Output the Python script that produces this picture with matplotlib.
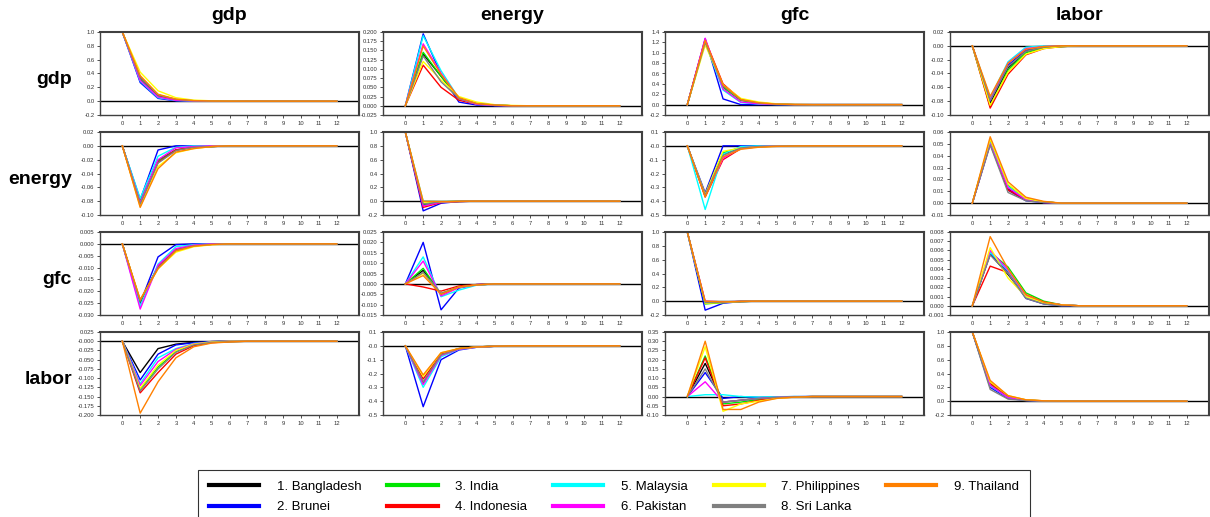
import matplotlib.pyplot as plt
import numpy as np

plt.rcParams['font.family'] = ['Liberation Sans', 'DejaVu Sans']

# countries in legend order
countries = ['1. Bangladesh', '2. Brunei', '3. India', '4. Indonesia', '5. Malaysia',
             '6. Pakistan', '7. Philippines', '8. Sri Lanka', '9. Thailand']
colors = ['#000000', '#0000ff', '#00e600', '#ff0000', '#00ffff',
          '#ff00ff', '#ffff00', '#808080', '#ff8000']
variables = ['gdp', 'energy', 'gfc', 'labor']
periods = np.arange(13)

# responses: row variable to column shock, one list per country (order as above)
gdp_gdp = [
    [1, 0.33, 0.08, 0.02, 0.005, 0.002, 0, 0, 0, 0, 0, 0, 0],
    [1, 0.27, 0.04, 0.005, 0, 0, 0, 0, 0, 0, 0, 0, 0],
    [1, 0.31, 0.07, 0.015, 0.004, 0.001, 0, 0, 0, 0, 0, 0, 0],
    [1, 0.35, 0.09, 0.025, 0.006, 0.002, 0, 0, 0, 0, 0, 0, 0],
    [1, 0.29, 0.05, 0.01, 0.002, 0, 0, 0, 0, 0, 0, 0, 0],
    [1, 0.30, 0.06, 0.012, 0.003, 0, 0, 0, 0, 0, 0, 0, 0],
    [1, 0.42, 0.15, 0.05, 0.015, 0.005, 0.002, 0, 0, 0, 0, 0, 0],
    [1, 0.34, 0.09, 0.025, 0.006, 0.002, 0, 0, 0, 0, 0, 0, 0],
    [1, 0.37, 0.10, 0.03, 0.008, 0.002, 0, 0, 0, 0, 0, 0, 0],
]
gdp_energy = [
    [0, 0.140, 0.080, 0.020, 0.005, 0.002, 0, 0, 0, 0, 0, 0, 0],
    [0, 0.195, 0.085, 0.010, 0.002, 0, 0, 0, 0, 0, 0, 0, 0],
    [0, 0.145, 0.080, 0.020, 0.005, 0.002, 0, 0, 0, 0, 0, 0, 0],
    [0, 0.110, 0.050, 0.015, 0.004, 0.001, 0, 0, 0, 0, 0, 0, 0],
    [0, 0.190, 0.095, 0.020, 0.004, 0.001, 0, 0, 0, 0, 0, 0, 0],
    [0, 0.168, 0.088, 0.020, 0.004, 0.001, 0, 0, 0, 0, 0, 0, 0],
    [0, 0.120, 0.070, 0.025, 0.010, 0.003, 0.001, 0, 0, 0, 0, 0, 0],
    [0, 0.135, 0.065, 0.020, 0.006, 0.002, 0, 0, 0, 0, 0, 0, 0],
    [0, 0.162, 0.085, 0.022, 0.006, 0.002, 0, 0, 0, 0, 0, 0, 0],
]
gdp_gfc = [
    [0, 1.23, 0.35, 0.09, 0.03, 0.008, 0, 0, 0, 0, 0, 0, 0],
    [0, 1.27, 0.11, 0.00, 0, 0, 0, 0, 0, 0, 0, 0, 0],
    [0, 1.22, 0.33, 0.08, 0.025, 0.006, 0, 0, 0, 0, 0, 0, 0],
    [0, 1.25, 0.40, 0.10, 0.035, 0.01, 0.002, 0, 0, 0, 0, 0, 0],
    [0, 1.20, 0.28, 0.04, 0.01, 0.002, 0, 0, 0, 0, 0, 0, 0],
    [0, 1.28, 0.30, 0.05, 0.015, 0.003, 0, 0, 0, 0, 0, 0, 0],
    [0, 1.15, 0.38, 0.12, 0.05, 0.015, 0.004, 0, 0, 0, 0, 0, 0],
    [0, 1.20, 0.36, 0.09, 0.03, 0.008, 0, 0, 0, 0, 0, 0, 0],
    [0, 1.24, 0.38, 0.10, 0.035, 0.01, 0.002, 0, 0, 0, 0, 0, 0],
]
gdp_labor = [
    [0, -0.083, -0.032, -0.008, -0.002, -0.001, 0, 0, 0, 0, 0, 0, 0],
    [0, -0.080, -0.028, -0.006, -0.001, 0, 0, 0, 0, 0, 0, 0, 0],
    [0, -0.088, -0.035, -0.010, -0.003, -0.001, 0, 0, 0, 0, 0, 0, 0],
    [0, -0.090, -0.041, -0.013, -0.004, -0.001, 0, 0, 0, 0, 0, 0, 0],
    [0, -0.075, -0.023, -0.002, 0, 0, 0, 0, 0, 0, 0, 0, 0],
    [0, -0.078, -0.025, -0.004, -0.001, 0, 0, 0, 0, 0, 0, 0, 0],
    [0, -0.086, -0.038, -0.012, -0.004, -0.001, 0, 0, 0, 0, 0, 0, 0],
    [0, -0.079, -0.030, -0.008, -0.002, 0, 0, 0, 0, 0, 0, 0, 0],
    [0, -0.073, -0.025, -0.005, -0.001, 0, 0, 0, 0, 0, 0, 0, 0],
]
energy_gdp = [
    [0, -0.083, -0.021, -0.006, -0.002, -0.001, 0, 0, 0, 0, 0, 0, 0],
    [0, -0.078, -0.006, 0.000, 0, 0, 0, 0, 0, 0, 0, 0, 0],
    [0, -0.080, -0.022, -0.006, -0.002, -0.001, 0, 0, 0, 0, 0, 0, 0],
    [0, -0.085, -0.024, -0.006, -0.002, -0.001, 0, 0, 0, 0, 0, 0, 0],
    [0, -0.076, -0.015, -0.002, 0, 0, 0, 0, 0, 0, 0, 0, 0],
    [0, -0.082, -0.020, -0.003, -0.001, 0, 0, 0, 0, 0, 0, 0, 0],
    [0, -0.088, -0.030, -0.010, -0.004, -0.001, 0, 0, 0, 0, 0, 0, 0],
    [0, -0.084, -0.025, -0.007, -0.002, -0.001, 0, 0, 0, 0, 0, 0, 0],
    [0, -0.089, -0.033, -0.009, -0.004, -0.001, 0, 0, 0, 0, 0, 0, 0],
]
energy_energy = [
    [1, -0.05, -0.01, -0.003, 0, 0, 0, 0, 0, 0, 0, 0, 0],
    [1, -0.14, -0.03, -0.005, 0, 0, 0, 0, 0, 0, 0, 0, 0],
    [1, -0.06, -0.015, -0.004, 0, 0, 0, 0, 0, 0, 0, 0, 0],
    [1, -0.09, -0.02, -0.005, 0, 0, 0, 0, 0, 0, 0, 0, 0],
    [1, 0.00, -0.005, 0, 0, 0, 0, 0, 0, 0, 0, 0, 0],
    [1, -0.07, -0.015, -0.004, 0, 0, 0, 0, 0, 0, 0, 0, 0],
    [1, -0.02, -0.01, -0.003, 0, 0, 0, 0, 0, 0, 0, 0, 0],
    [1, -0.04, -0.01, -0.003, 0, 0, 0, 0, 0, 0, 0, 0, 0],
    [1, 0.00, -0.005, -0.002, 0, 0, 0, 0, 0, 0, 0, 0, 0],
]
energy_gfc = [
    [0, -0.36, -0.06, -0.015, -0.005, -0.002, 0, 0, 0, 0, 0, 0, 0],
    [0, -0.34, 0.00, 0.00, 0, 0, 0, 0, 0, 0, 0, 0, 0],
    [0, -0.36, -0.05, -0.012, -0.004, -0.001, 0, 0, 0, 0, 0, 0, 0],
    [0, -0.37, -0.10, -0.02, -0.007, -0.002, 0, 0, 0, 0, 0, 0, 0],
    [0, -0.46, -0.06, -0.005, 0, 0, 0, 0, 0, 0, 0, 0, 0],
    [0, -0.36, -0.09, -0.015, -0.005, -0.001, 0, 0, 0, 0, 0, 0, 0],
    [0, -0.35, -0.04, -0.015, -0.008, -0.003, -0.001, 0, 0, 0, 0, 0, 0],
    [0, -0.355, -0.07, -0.015, -0.005, -0.002, 0, 0, 0, 0, 0, 0, 0],
    [0, -0.37, -0.08, -0.025, -0.01, -0.004, -0.001, 0, 0, 0, 0, 0, 0],
]
energy_labor = [
    [0, 0.051, 0.012, 0.003, 0.001, 0, 0, 0, 0, 0, 0, 0, 0],
    [0, 0.050, 0.011, 0.002, 0.0005, 0, 0, 0, 0, 0, 0, 0, 0],
    [0, 0.053, 0.015, 0.004, 0.001, 0, 0, 0, 0, 0, 0, 0, 0],
    [0, 0.052, 0.011, 0.003, 0.001, 0, 0, 0, 0, 0, 0, 0, 0],
    [0, 0.051, 0.014, 0.003, 0.001, 0, 0, 0, 0, 0, 0, 0, 0],
    [0, 0.050, 0.013, 0.003, 0.0005, 0, 0, 0, 0, 0, 0, 0, 0],
    [0, 0.054, 0.016, 0.004, 0.001, 0, 0, 0, 0, 0, 0, 0, 0],
    [0, 0.049, 0.009, 0.002, 0.0005, 0, 0, 0, 0, 0, 0, 0, 0],
    [0, 0.056, 0.018, 0.005, 0.0015, 0, 0, 0, 0, 0, 0, 0, 0],
]
gfc_gdp = [
    [0, -0.0245, -0.0095, -0.0025, -0.0008, -0.0002, 0, 0, 0, 0, 0, 0, 0],
    [0, -0.0250, -0.0055, -0.0003, 0, 0, 0, 0, 0, 0, 0, 0, 0],
    [0, -0.0245, -0.0095, -0.0025, -0.0008, -0.0002, 0, 0, 0, 0, 0, 0, 0],
    [0, -0.0240, -0.0095, -0.0025, -0.0008, -0.0002, 0, 0, 0, 0, 0, 0, 0],
    [0, -0.0265, -0.0085, -0.0012, -0.0003, 0, 0, 0, 0, 0, 0, 0, 0],
    [0, -0.0275, -0.0090, -0.0020, -0.0005, 0, 0, 0, 0, 0, 0, 0, 0],
    [0, -0.0235, -0.0105, -0.0035, -0.0012, -0.0004, 0, 0, 0, 0, 0, 0, 0],
    [0, -0.0240, -0.0100, -0.0027, -0.0008, -0.0002, 0, 0, 0, 0, 0, 0, 0],
    [0, -0.0235, -0.0105, -0.0030, -0.0010, -0.0003, 0, 0, 0, 0, 0, 0, 0],
]
gfc_energy = [
    [0, 0.0065, -0.0048, -0.0015, -0.0005, 0, 0, 0, 0, 0, 0, 0, 0],
    [0, 0.0200, -0.0125, -0.0020, -0.0003, 0, 0, 0, 0, 0, 0, 0, 0],
    [0, 0.0075, -0.0050, -0.0015, -0.0005, 0, 0, 0, 0, 0, 0, 0, 0],
    [0, -0.0015, -0.0035, -0.0010, -0.0003, 0, 0, 0, 0, 0, 0, 0, 0],
    [0, 0.0130, -0.0062, -0.0030, -0.0006, 0, 0, 0, 0, 0, 0, 0, 0],
    [0, 0.0110, -0.0058, -0.0018, -0.0005, 0, 0, 0, 0, 0, 0, 0, 0],
    [0, 0.0050, -0.0045, -0.0015, -0.0005, 0, 0, 0, 0, 0, 0, 0, 0],
    [0, 0.0055, -0.0045, -0.0015, -0.0005, 0, 0, 0, 0, 0, 0, 0, 0],
    [0, 0.0040, -0.0050, -0.0015, -0.0005, 0, 0, 0, 0, 0, 0, 0, 0],
]
gfc_gfc = [
    [1, -0.03, -0.015, -0.004, 0, 0, 0, 0, 0, 0, 0, 0, 0],
    [1, -0.13, -0.03, -0.005, 0, 0, 0, 0, 0, 0, 0, 0, 0],
    [1, -0.04, -0.02, -0.005, 0, 0, 0, 0, 0, 0, 0, 0, 0],
    [1, -0.02, -0.015, -0.004, 0, 0, 0, 0, 0, 0, 0, 0, 0],
    [1, -0.02, -0.01, -0.003, 0, 0, 0, 0, 0, 0, 0, 0, 0],
    [1, 0.00, -0.01, -0.003, 0, 0, 0, 0, 0, 0, 0, 0, 0],
    [1, -0.03, -0.02, -0.005, 0, 0, 0, 0, 0, 0, 0, 0, 0],
    [1, -0.02, -0.015, -0.004, 0, 0, 0, 0, 0, 0, 0, 0, 0],
    [1, 0.00, -0.01, -0.003, 0, 0, 0, 0, 0, 0, 0, 0, 0],
]
gfc_labor = [
    [0, 0.0056, 0.0034, 0.0010, 0.0003, 0.0001, 0, 0, 0, 0, 0, 0, 0],
    [0, 0.0057, 0.0036, 0.0008, 0.0002, 0, 0, 0, 0, 0, 0, 0, 0],
    [0, 0.0058, 0.0042, 0.0014, 0.0005, 0.0001, 0, 0, 0, 0, 0, 0, 0],
    [0, 0.0043, 0.0036, 0.0012, 0.0004, 0.0001, 0, 0, 0, 0, 0, 0, 0],
    [0, 0.0058, 0.0038, 0.0010, 0.0003, 0.0001, 0, 0, 0, 0, 0, 0, 0],
    [0, 0.0060, 0.0039, 0.0011, 0.0003, 0.0001, 0, 0, 0, 0, 0, 0, 0],
    [0, 0.0063, 0.0030, 0.0010, 0.0003, 0.0001, 0, 0, 0, 0, 0, 0, 0],
    [0, 0.0055, 0.0035, 0.0008, 0.0002, 0, 0, 0, 0, 0, 0, 0, 0],
    [0, 0.0075, 0.0040, 0.0012, 0.0004, 0.0001, 0, 0, 0, 0, 0, 0, 0],
]
labor_gdp = [
    [0, -0.085, -0.020, -0.008, -0.003, -0.001, 0, 0, 0, 0, 0, 0, 0],
    [0, -0.105, -0.035, -0.010, -0.004, -0.001, 0, 0, 0, 0, 0, 0, 0],
    [0, -0.130, -0.070, -0.028, -0.009, -0.003, -0.001, 0, 0, 0, 0, 0, 0],
    [0, -0.140, -0.085, -0.035, -0.012, -0.004, -0.001, 0, 0, 0, 0, 0, 0],
    [0, -0.115, -0.045, -0.020, -0.006, -0.002, 0, 0, 0, 0, 0, 0, 0],
    [0, -0.120, -0.055, -0.022, -0.007, -0.002, 0, 0, 0, 0, 0, 0, 0],
    [0, -0.128, -0.065, -0.025, -0.008, -0.002, 0, 0, 0, 0, 0, 0, 0],
    [0, -0.135, -0.075, -0.030, -0.010, -0.003, -0.001, 0, 0, 0, 0, 0, 0],
    [0, -0.195, -0.110, -0.045, -0.015, -0.005, -0.002, 0, 0, 0, 0, 0, 0],
]
labor_energy = [
    [0, -0.27, -0.06, -0.02, -0.008, -0.003, 0, 0, 0, 0, 0, 0, 0],
    [0, -0.44, -0.10, -0.03, -0.01, -0.003, 0, 0, 0, 0, 0, 0, 0],
    [0, -0.27, -0.06, -0.02, -0.008, -0.003, 0, 0, 0, 0, 0, 0, 0],
    [0, -0.24, -0.06, -0.02, -0.008, -0.003, 0, 0, 0, 0, 0, 0, 0],
    [0, -0.30, -0.08, -0.025, -0.01, -0.003, 0, 0, 0, 0, 0, 0, 0],
    [0, -0.28, -0.07, -0.025, -0.01, -0.003, 0, 0, 0, 0, 0, 0, 0],
    [0, -0.22, -0.05, -0.02, -0.008, -0.003, 0, 0, 0, 0, 0, 0, 0],
    [0, -0.26, -0.065, -0.022, -0.008, -0.003, 0, 0, 0, 0, 0, 0, 0],
    [0, -0.21, -0.05, -0.02, -0.008, -0.003, 0, 0, 0, 0, 0, 0, 0],
]
labor_gfc = [
    [0, 0.18, -0.03, -0.02, -0.01, -0.005, -0.002, 0, 0, 0, 0, 0, 0],
    [0, 0.13, -0.01, 0.00, -0.005, -0.002, 0, 0, 0, 0, 0, 0, 0],
    [0, 0.22, -0.04, -0.03, -0.015, -0.005, -0.002, 0, 0, 0, 0, 0, 0],
    [0, 0.21, -0.05, -0.04, -0.02, -0.008, -0.003, 0, 0, 0, 0, 0, 0],
    [0, 0.01, 0.01, 0.00, -0.003, -0.001, 0, 0, 0, 0, 0, 0, 0],
    [0, 0.08, -0.03, -0.02, -0.01, -0.004, -0.001, 0, 0, 0, 0, 0, 0],
    [0, 0.27, -0.08, -0.04, -0.025, -0.01, -0.003, 0, 0, 0, 0, 0, 0],
    [0, 0.15, -0.03, -0.02, -0.01, -0.004, -0.001, 0, 0, 0, 0, 0, 0],
    [0, 0.30, -0.07, -0.07, -0.03, -0.01, -0.003, 0, 0, 0, 0, 0, 0],
]
labor_labor = [
    [1, 0.25, 0.05, 0.012, 0.003, 0, 0, 0, 0, 0, 0, 0, 0],
    [1, 0.20, 0.04, 0.01, 0.002, 0, 0, 0, 0, 0, 0, 0, 0],
    [1, 0.24, 0.06, 0.015, 0.004, 0, 0, 0, 0, 0, 0, 0, 0],
    [1, 0.26, 0.07, 0.018, 0.005, 0.001, 0, 0, 0, 0, 0, 0, 0],
    [1, 0.22, 0.05, 0.012, 0.003, 0, 0, 0, 0, 0, 0, 0, 0],
    [1, 0.23, 0.05, 0.012, 0.003, 0, 0, 0, 0, 0, 0, 0, 0],
    [1, 0.28, 0.08, 0.02, 0.005, 0.001, 0, 0, 0, 0, 0, 0, 0],
    [1, 0.17, 0.03, 0.008, 0.002, 0, 0, 0, 0, 0, 0, 0, 0],
    [1, 0.30, 0.08, 0.02, 0.005, 0.001, 0, 0, 0, 0, 0, 0, 0],
]

panels = [[gdp_gdp, gdp_energy, gdp_gfc, gdp_labor],
          [energy_gdp, energy_energy, energy_gfc, energy_labor],
          [gfc_gdp, gfc_energy, gfc_gfc, gfc_labor],
          [labor_gdp, labor_energy, labor_gfc, labor_labor]]

# y axis (min, max, step, decimals) per panel
yaxes = [[(-0.2, 1.0, 0.2, 1), (-0.025, 0.2, 0.025, 3), (-0.2, 1.4, 0.2, 1), (-0.10, 0.02, 0.02, 2)],
         [(-0.10, 0.02, 0.02, 2), (-0.2, 1.0, 0.2, 1), (-0.5, 0.1, 0.1, 1), (-0.01, 0.06, 0.01, 2)],
         [(-0.030, 0.005, 0.005, 3), (-0.015, 0.025, 0.005, 3), (-0.2, 1.0, 0.2, 1), (-0.001, 0.008, 0.001, 3)],
         [(-0.200, 0.025, 0.025, 3), (-0.5, 0.1, 0.1, 1), (-0.10, 0.35, 0.05, 2), (-0.2, 1.0, 0.2, 1)]]
minus_zero = [(1, 2), (3, 1)]

W, H = 1210, 517
fig = plt.figure(figsize=(W / 100, H / 100), dpi=100, facecolor='w')
col_left = [100, 383, 665, 950]
row_top = [32, 132, 232, 332]
ax_w, ax_h = 259, 83

for i in range(4):
    for j in range(4):
        ax = fig.add_axes([col_left[j] / W, 1 - (row_top[i] + ax_h) / H, ax_w / W, ax_h / H])
        ax.axhline(0, color='black', lw=1.0, zorder=1)
        for k in range(9):
            ax.plot(periods, panels[i][j][k], color=colors[k], lw=1.0, zorder=2)
        lo, hi, step, dec = yaxes[i][j]
        ticks = np.round(np.arange(lo, hi + step / 2, step), 6)
        labels = [f'{t:.{dec}f}' for t in ticks]
        if (i, j) in minus_zero:
            labels = ['-0.0' if abs(t) < 1e-9 else l for t, l in zip(ticks, labels)]
        ax.set_yticks(ticks)
        ax.set_yticklabels(labels)
        ax.set_ylim(lo, hi)
        ax.set_xlim(-1.25, 13.25)
        ax.set_xticks(periods)
        ax.tick_params(labelsize=4.2, length=2, width=0.6, colors='#333333', pad=2)
        for s in ax.spines.values():
            s.set_color('#404040')
            s.set_linewidth(1.0)
        ax.spines['top'].set_linewidth(1.5)
        ax.spines['right'].set_linewidth(1.5)
        if i == 0:
            fig.text((col_left[j] + ax_w / 2) / W, 1 - 16 / H, variables[j],
                     ha='center', va='center', fontsize=14, fontweight='bold')
    fig.text(72 / W, 1 - (row_top[i] + 47) / H, variables[i],
             ha='right', va='center', fontsize=14, fontweight='bold')

handles = [plt.Line2D([], [], color=c, lw=3) for c in colors]
leg = fig.legend(handles, countries, loc='upper center', bbox_to_anchor=(614 / W, 1 - 463 / H),
                 ncol=5, fontsize=9.5, frameon=True, fancybox=False, edgecolor='black',
                 handlelength=3.8, handletextpad=1.35, columnspacing=1.95,
                 borderpad=0.85, labelspacing=0.6)
leg.get_frame().set_linewidth(0.8)

plt.savefig('out.png', dpi=100)
